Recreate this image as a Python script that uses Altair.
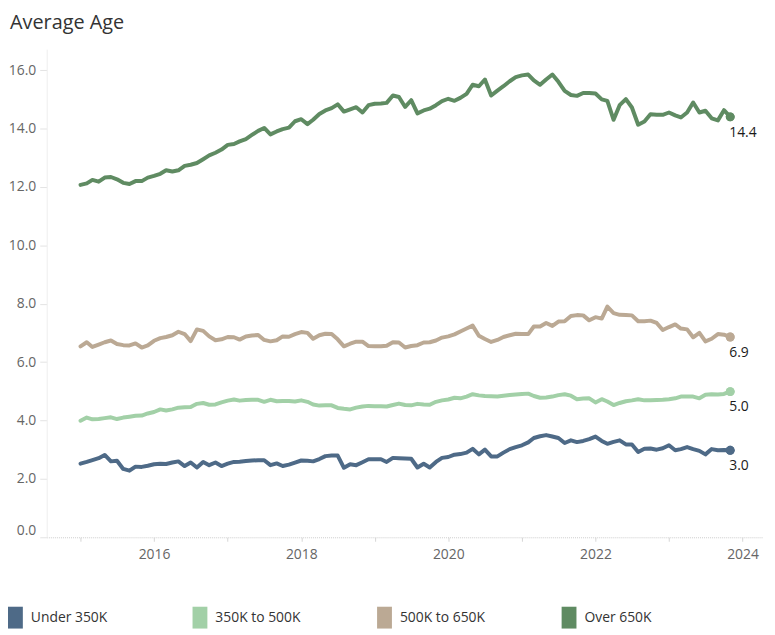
import altair as alt
import pandas as pd

# Monthly data, Jan 2015 .. Nov 2023
start = "2015-01-01"
n_months = 107

title_text = ["Average Age"]
series_names = ["Under 350K", "350K to 500K", "500K to 650K", "Over 650K"]
series_colors = ["#4e6a87", "#a2d0a7", "#bba994", "#5f8b62"]

under_350k = [
    2.52, 2.58, 2.64, 2.71, 2.82, 2.60, 2.62, 2.34, 2.28, 2.42, 2.41, 2.45,
    2.50, 2.52, 2.51, 2.56, 2.60, 2.44, 2.56, 2.39, 2.58, 2.47, 2.56, 2.44,
    2.52, 2.58, 2.59, 2.61, 2.63, 2.64, 2.64, 2.47, 2.53, 2.44, 2.49, 2.56,
    2.63, 2.62, 2.60, 2.68, 2.78, 2.80, 2.80, 2.38, 2.50, 2.47, 2.57, 2.67,
    2.67, 2.67, 2.58, 2.72, 2.71, 2.70, 2.69, 2.39, 2.52, 2.39, 2.58, 2.72,
    2.75, 2.83, 2.85, 2.90, 3.03, 2.84, 3.00, 2.77, 2.77, 2.90, 3.02, 3.09,
    3.15, 3.25, 3.40, 3.46, 3.50, 3.45, 3.40, 3.23, 3.32, 3.26, 3.30, 3.36,
    3.45, 3.30, 3.20, 3.27, 3.32, 3.18, 3.18, 2.92, 3.03, 3.04, 3.00, 3.05,
    3.15, 2.98, 3.02, 3.09, 3.02, 2.96, 2.84, 3.02, 2.98, 2.99, 2.98,
]
k350_to_500 = [
    3.99, 4.10, 4.04, 4.05, 4.08, 4.11, 4.05, 4.10, 4.13, 4.16, 4.17, 4.24,
    4.29, 4.38, 4.34, 4.38, 4.44, 4.45, 4.46, 4.57, 4.60, 4.54, 4.55, 4.62,
    4.68, 4.72, 4.68, 4.70, 4.71, 4.71, 4.64, 4.71, 4.66, 4.67, 4.67, 4.65,
    4.69, 4.64, 4.55, 4.51, 4.52, 4.52, 4.43, 4.40, 4.38, 4.44, 4.48, 4.50,
    4.49, 4.49, 4.48, 4.53, 4.58, 4.53, 4.52, 4.57, 4.55, 4.54, 4.64, 4.69,
    4.72, 4.78, 4.76, 4.82, 4.90, 4.86, 4.84, 4.83, 4.82, 4.85, 4.87, 4.89,
    4.91, 4.92, 4.84, 4.78, 4.79, 4.82, 4.87, 4.90, 4.85, 4.73, 4.75, 4.76,
    4.62, 4.73, 4.65, 4.53, 4.60, 4.66, 4.69, 4.73, 4.69, 4.69, 4.70, 4.71,
    4.73, 4.76, 4.82, 4.82, 4.82, 4.76, 4.88, 4.90, 4.89, 4.91, 4.99,
]
k500_to_650 = [
    6.54, 6.68, 6.52, 6.60, 6.68, 6.74, 6.62, 6.58, 6.57, 6.64, 6.50, 6.57,
    6.73, 6.82, 6.86, 6.92, 7.04, 6.96, 6.72, 7.12, 7.07, 6.88, 6.75, 6.78,
    6.86, 6.85, 6.77, 6.88, 6.91, 6.93, 6.76, 6.71, 6.75, 6.88, 6.87, 6.96,
    7.03, 7.00, 6.80, 6.92, 6.97, 6.96, 6.78, 6.54, 6.63, 6.70, 6.70, 6.55,
    6.54, 6.54, 6.56, 6.68, 6.67, 6.50, 6.55, 6.58, 6.67, 6.68, 6.74, 6.84,
    6.88, 6.95, 7.05, 7.15, 7.25, 6.90, 6.79, 6.69, 6.76, 6.86, 6.92, 6.97,
    6.96, 6.96, 7.22, 7.22, 7.34, 7.24, 7.39, 7.40, 7.58, 7.61, 7.60, 7.43,
    7.54, 7.49, 7.90, 7.68, 7.62, 7.61, 7.60, 7.40, 7.40, 7.42, 7.34, 7.10,
    7.20, 7.29, 7.15, 7.12, 6.85, 7.00, 6.71, 6.80, 6.96, 6.94, 6.86,
]
over_650k = [
    12.07, 12.12, 12.24, 12.18, 12.32, 12.34, 12.26, 12.14, 12.10, 12.20, 12.20, 12.32,
    12.38, 12.45, 12.57, 12.53, 12.57, 12.72, 12.76, 12.82, 12.95, 13.08, 13.17, 13.28,
    13.44, 13.47, 13.56, 13.64, 13.78, 13.92, 14.02, 13.80, 13.90, 13.98, 14.03, 14.25,
    14.32, 14.15, 14.30, 14.50, 14.62, 14.70, 14.83, 14.58, 14.66, 14.73, 14.55, 14.80,
    14.85, 14.86, 14.88, 15.13, 15.08, 14.74, 14.97, 14.52, 14.62, 14.68, 14.80, 14.94,
    15.02, 14.95, 15.05, 15.19, 15.50, 15.45, 15.68, 15.13, 15.30, 15.45, 15.62, 15.76,
    15.82, 15.85, 15.65, 15.50, 15.68, 15.85, 15.60, 15.29, 15.15, 15.12, 15.22, 15.22,
    15.20, 15.00, 14.95, 14.30, 14.80, 15.01, 14.72, 14.13, 14.24, 14.49, 14.47, 14.47,
    14.55, 14.45, 14.38, 14.55, 14.89, 14.55, 14.61, 14.35, 14.28, 14.63, 14.40,
]

y_ticks = [0, 2, 4, 6, 8, 10, 12, 14, 16]

dates = pd.date_range(start, periods=n_months, freq="MS").strftime("%Y-%m-%dT00:00:00")
rows = []
for name, vals in zip(series_names, [under_350k, k350_to_500, k500_to_650, over_650k]):
    for d, v in zip(dates, vals):
        rows.append({"date": d, "series": name, "value": v})
df = pd.DataFrame(rows)
last = df.groupby("series", sort=False).tail(1).reset_index(drop=True)

FONT = "Open Sans"

x_enc = alt.X(
    "date:T",
    scale=alt.Scale(domain=[alt.DateTime(year=2014, month=7, date=17),
                            alt.DateTime(year=2024, month=4, date=12)]),
    axis=alt.Axis(
        title=None, grid=False,
        tickCount={"interval": "year", "step": 1},
        labelExpr="year(datum.value) % 2 == 0 ? timeFormat(datum.value, '%Y') : ''",
        labelOverlap=False, labelFontSize=14, labelColor="#666666", labelPadding=6,
        domainColor="#cccccc", domainDash=[1, 1], tickColor="#d6d6d6", tickSize=4,
    ),
)
y_enc = alt.Y(
    "value:Q",
    scale=alt.Scale(domain=[0, 16.72], nice=False, zero=True),
    axis=alt.Axis(
        title=None, grid=False, values=y_ticks, format=".1f", labelFlush=True,
        labelFontSize=14, labelColor="#666666", labelPadding=4,
        domainColor="#eeeeee", tickColor="#e3e3e3", tickSize=7,
    ),
)
color_scale = alt.Scale(domain=series_names, range=series_colors)
legend = alt.Legend(
    title=None, orient="none", direction="horizontal", columns=4,
    legendX=-39, legendY=562, padding=0,
    symbolType="M-1,-1H0.36V1H-1Z", symbolSize=484, symbolStrokeWidth=0,
    symbolOpacity=1, labelOffset=1, labelFontSize=14, labelColor="#333333",
    gridAlign="all", columnPadding=77, labelLimit=200,
)

points = alt.Chart(last).mark_circle(size=80, opacity=1).encode(
    x=x_enc, y=y_enc,
    color=alt.Color("series:N", scale=color_scale, legend=legend),
)

lines = alt.Chart(df).mark_line(strokeWidth=4, strokeJoin="round", strokeCap="round").encode(
    x="date:T", y="value:Q",
    color=alt.Color("series:N", scale=color_scale, legend=legend),
)

end_dots = alt.Chart(last).mark_circle(size=80, opacity=1).encode(
    x="date:T", y="value:Q",
    color=alt.Color("series:N", scale=color_scale, legend=legend),
)

labels = alt.Chart(last).mark_text(
    align="left", baseline="middle", dx=-1, dy=16, fontSize=14, color="#1a1a1a"
).encode(
    x="date:T", y="value:Q",
    text=alt.Text("value:Q", format=".1f"),
)

title = alt.Chart(pd.DataFrame({"t": title_text})).mark_text(
    align="left", baseline="alphabetic", fontSize=20, color="#333333"
).encode(
    text="t:N", x=alt.value(-37), y=alt.value(-20),
)

chart = alt.layer(points, lines, end_dots, labels, title).properties(
    width=722, height=492,
    autosize=alt.AutoSizeParams(type="none"),
    padding={"left": 39, "top": 39, "right": 4, "bottom": 91},
).configure(font=FONT).configure_view(stroke=None)

chart.save("out.html", embed_options={"renderer": "svg", "actions": False})
